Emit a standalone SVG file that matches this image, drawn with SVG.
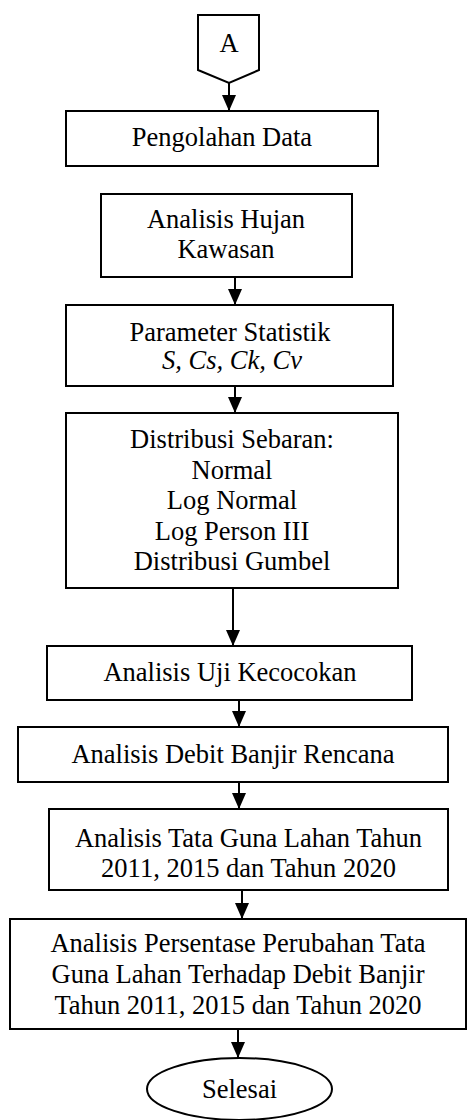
<svg xmlns="http://www.w3.org/2000/svg" width="467" height="1120" viewBox="0 0 467 1120">
<defs>
<style>
.box{fill:none;stroke:#000;stroke-width:2}
.t{font-family:"Liberation Serif","Times New Roman",serif;font-size:26.5px;fill:#000;text-anchor:middle}
.i{font-style:italic}
.c{stroke:#000;stroke-width:2;fill:none}
</style>
<marker id="ah" markerUnits="userSpaceOnUse" markerWidth="16" markerHeight="16" refX="16" refY="7" orient="auto">
<path d="M0,0 L16,7 L0,14 Z" fill="#000"/>
</marker>
</defs>
<rect width="467" height="1120" fill="#fff"/>
<g id="start">
<polygon class="box" points="198,15 259,15 259,70 229,83 198,70"/>
<text class="t" x="229" y="52">A</text>
</g>
<g id="pengolahan">
<rect class="box" x="66" y="111" width="312" height="55"/>
<text class="t" x="222" y="146">Pengolahan Data</text>
</g>
<g id="hujan">
<rect class="box" x="101" y="194" width="251" height="83"/>
<text class="t" x="226" y="228">Analisis Hujan</text>
<text class="t" x="226" y="258">Kawasan</text>
</g>
<g id="parameter">
<rect class="box" x="66" y="305" width="327" height="81"/>
<text class="t" x="230" y="341">Parameter Statistik</text>
<text class="t i" x="232" y="369">S, Cs, Ck, Cv</text>
</g>
<g id="distribusi">
<rect class="box" x="66" y="413" width="332" height="175"/>
<text class="t" x="232" y="448">Distribusi Sebaran:</text>
<text class="t" x="232" y="478.5">Normal</text>
<text class="t" x="232" y="509">Log Normal</text>
<text class="t" x="232" y="539.5">Log Person III</text>
<text class="t" x="232" y="570">Distribusi Gumbel</text>
</g>
<g id="uji">
<rect class="box" x="47" y="646" width="365" height="54"/>
<text class="t" x="230" y="681">Analisis Uji Kecocokan</text>
</g>
<g id="debit">
<rect class="box" x="18" y="727" width="430" height="55"/>
<text class="t" x="233" y="763">Analisis Debit Banjir Rencana</text>
</g>
<g id="tataguna">
<rect class="box" x="49" y="809" width="399" height="81"/>
<text class="t" x="248.5" y="847">Analisis Tata Guna Lahan Tahun</text>
<text class="t" x="248.5" y="877">2011, 2015 dan Tahun 2020</text>
</g>
<g id="persentase">
<rect class="box" x="10" y="919" width="456" height="110"/>
<text class="t" x="238" y="952">Analisis Persentase Perubahan Tata</text>
<text class="t" x="238" y="983">Guna Lahan Terhadap Debit Banjir</text>
<text class="t" x="238" y="1014">Tahun 2011, 2015 dan Tahun 2020</text>
</g>
<g id="selesai">
<ellipse class="box" cx="239.5" cy="1089" rx="92.5" ry="31"/>
<text class="t" x="239.5" y="1098">Selesai</text>
</g>
<g id="connectors">
<line class="c" x1="229" y1="83" x2="229" y2="111" marker-end="url(#ah)"/>
<line class="c" x1="235" y1="277" x2="235" y2="305" marker-end="url(#ah)"/>
<line class="c" x1="235" y1="386" x2="235" y2="413" marker-end="url(#ah)"/>
<line class="c" x1="233" y1="588" x2="233" y2="646" marker-end="url(#ah)"/>
<line class="c" x1="239" y1="700" x2="239" y2="727" marker-end="url(#ah)"/>
<line class="c" x1="239" y1="782" x2="239" y2="809" marker-end="url(#ah)"/>
<line class="c" x1="242" y1="890" x2="242" y2="919" marker-end="url(#ah)"/>
<line class="c" x1="238" y1="1029" x2="238" y2="1058" marker-end="url(#ah)"/>
</g>
</svg>
